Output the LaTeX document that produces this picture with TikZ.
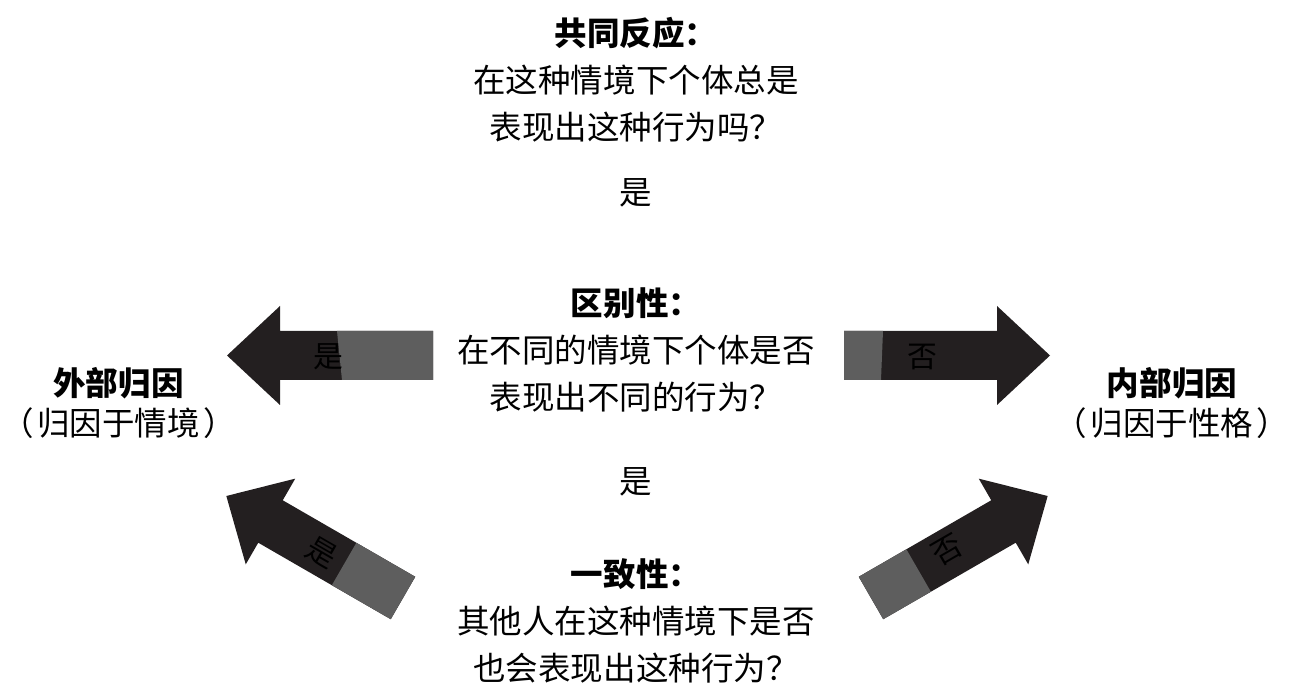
\documentclass[tikz,border=0pt]{standalone}
\usepackage{fontspec}
\setmainfont{Noto Sans CJK SC}
\definecolor{flecha}{HTML}{231F20}
\definecolor{cola}{HTML}{5E5E5E}

\begin{document}
\begin{tikzpicture}
\tikzstyle{nodo texto}=[align=center,inner sep=0pt,font=\fontsize{18.5}{26.7}\selectfont]
\tikzstyle{nodo lado}=[align=center,inner sep=0pt,font=\fontsize{18.5}{22.7}\selectfont]
\tikzstyle{nodo flecha}=[inner sep=0pt,text=black,font=\fontsize{17}{17}\selectfont]

\useasboundingbox (0,0) rectangle (25.82,13.82);

% preguntas centrales
\node[nodo texto] (consenso) at (12.72,12.22) {\textbf{共同反应：}\\在这种情境下个体总是\\表现出这种行为吗？};
\node[nodo texto] (si1) at (12.72,9.96) {是};
\node[nodo texto] (distintivo) at (12.72,6.82) {\textbf{区别性：}\\在不同的情境下个体是否\\表现出不同的行为？};
\node[nodo texto] (si2) at (12.72,4.18) {是};
\node[nodo texto] (consistencia) at (12.72,1.40) {\textbf{一致性：}\\其他人在这种情境下是否\\也会表现出这种行为？};

% atribuciones
\node[nodo lado] (externa) at (2.37,5.76) {\textbf{外部归因}\\（\hspace{0.1em}归因于情境\hspace{0.1em}）};
\node[nodo lado] (interna) at (23.44,5.76) {\textbf{内部归因}\\（\hspace{0.1em}归因于性格\hspace{0.1em}）};

% flecha izquierda
\begin{scope}[shift={(8.66,6.71)},rotate=180]
\fill[flecha] (0,-0.49) -- (3.06,-0.49) -- (3.06,-0.99) -- (4.12,0) -- (3.06,0.99) -- (3.06,0.49) -- (0,0.49) -- cycle;
\fill[cola] (0,-0.49) -- (1.92,-0.49) -- (1.82,0.49) -- (0,0.49) -- cycle;
\end{scope}
\node[nodo flecha] (si3) at (6.56,6.68) {是};

% flecha derecha
\begin{scope}[shift={(16.88,6.71)}]
\fill[flecha] (0,-0.49) -- (3.06,-0.49) -- (3.06,-0.99) -- (4.12,0) -- (3.06,0.99) -- (3.06,0.49) -- (0,0.49) -- cycle;
\fill[cola] (0,-0.49) -- (0.74,-0.49) -- (0.78,0.49) -- (0,0.49) -- cycle;
\end{scope}
\node[nodo flecha] (no1) at (18.44,6.68) {否};

% flecha diagonal izquierda
\begin{scope}[shift={(8.06,1.86)},rotate=150]
\fill[flecha] (0,-0.49) -- (3.06,-0.49) -- (3.06,-0.99) -- (4.08,0) -- (3.06,0.99) -- (3.06,0.49) -- (0,0.49) -- cycle;
\fill[cola] (0,-0.49) rectangle (1.36,0.49);
\end{scope}
\node[nodo flecha,rotate=-30] (si4) at (6.44,2.76) {是};

% flecha diagonal derecha
\begin{scope}[shift={(17.42,1.86)},rotate=30]
\fill[flecha] (0,-0.49) -- (3.06,-0.49) -- (3.06,-0.99) -- (4.08,0) -- (3.06,0.99) -- (3.06,0.49) -- (0,0.49) -- cycle;
\fill[cola] (0,-0.49) rectangle (1.10,0.49);
\end{scope}
\node[nodo flecha,rotate=30] (no2) at (18.94,2.82) {否};
\end{tikzpicture}
\end{document}
